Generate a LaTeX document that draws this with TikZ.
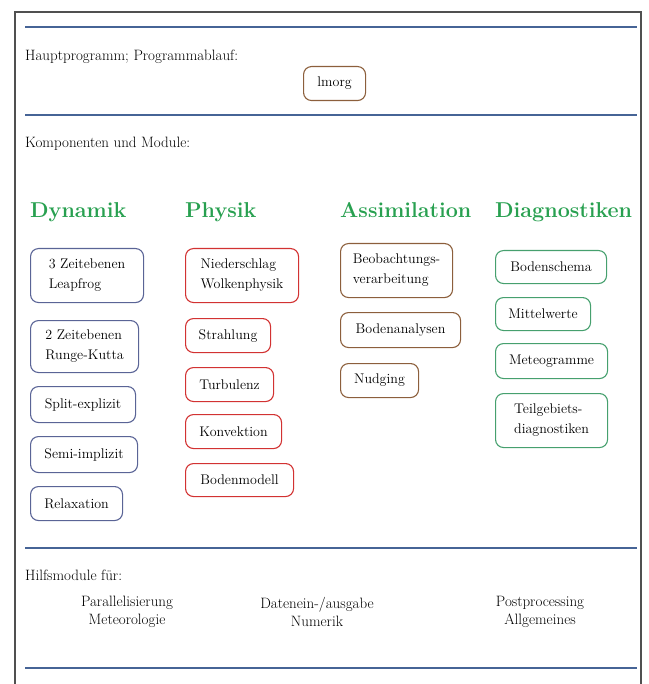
\documentclass[tikz,border=0pt]{standalone}
\usepackage{fontspec}
\begin{document}
\definecolor{sepblue}{RGB}{70,100,150}
\definecolor{hdrgreen}{RGB}{40,160,80}
\definecolor{dync}{RGB}{90,100,150}
\definecolor{phyc}{RGB}{210,50,50}
\definecolor{assc}{RGB}{140,95,60}
\definecolor{diac}{RGB}{70,160,110}
\definecolor{framec}{RGB}{80,80,80}
\begin{tikzpicture}[x=1pt,y=-1pt,
  lbl/.style={anchor=base west,inner sep=0pt,font=\fontsize{15}{18}\selectfont},
  hdr/.style={anchor=base west,inner sep=0pt,text=hdrgreen,font=\fontsize{21.5}{25}\selectfont\bfseries},
  modbox/.style={anchor=north west,draw,rounded corners=8pt,line width=1.1pt,align=left,
    font=\fontsize{14}{20}\selectfont,inner sep=0pt},
  dynbox/.style={modbox,draw=dync},
  phybox/.style={modbox,draw=phyc},
  assbox/.style={modbox,draw=assc},
  diabox/.style={modbox,draw=diac},
  sep/.style={draw=sepblue,line width=2pt},
  helper/.style={anchor=center,align=center,inner sep=0pt,font=\fontsize{15}{17.5}\selectfont}
]
\useasboundingbox (0,0) rectangle (648,684);
\clip (0,0) rectangle (648,684);
% frame
\coordinate (fbl) at (15,700);
\coordinate (ftl) at (15,12);
\coordinate (ftr) at (641,12);
\coordinate (fbr) at (641,700);
\draw[framec,line width=1.3pt] (fbl) -- (ftl) -- (ftr) -- (fbr);
% separator lines
\coordinate (s1l) at (25,27);  \coordinate (s1r) at (637,27);
\coordinate (s2l) at (25,115); \coordinate (s2r) at (637,115);
\coordinate (s3l) at (25,548); \coordinate (s3r) at (637,548);
\coordinate (s4l) at (25,668); \coordinate (s4r) at (637,668);
\draw[sep] (s1l) -- (s1r);
\draw[sep] (s2l) -- (s2r);
\draw[sep] (s3l) -- (s3r);
\draw[sep] (s4l) -- (s4r);
% main program
\node[lbl] (hp) at (25,61) {Hauptprogramm; Programmablauf:};
\node[modbox,draw=assc,align=center,minimum width=62pt,minimum height=34pt] (lmorg) at (303,66) {lmorg};
% components
\node[lbl] (km) at (25,148) {Komponenten und Module:};
\node[hdr] (hdyn) at (30,218) {Dynamik};
\node[hdr] (hphy) at (185,218) {Physik};
\node[hdr] (hass) at (340,218) {Assimilation};
\node[hdr] (hdia) at (495,218) {Diagnostiken};
% Dynamik
\node[dynbox,minimum width=113pt,minimum height=54pt] (d1) at (30,248) {3 Zeitebenen\\Leapfrog};
\node[dynbox,minimum width=108pt,minimum height=52pt] (d2) at (30,320) {2 Zeitebenen\\Runge-Kutta};
\node[dynbox,minimum width=105pt,minimum height=36pt] (d3) at (30,386) {Split-explizit};
\node[dynbox,minimum width=107pt,minimum height=36pt] (d4) at (30,436) {Semi-implizit};
\node[dynbox,minimum width=92pt,minimum height=34pt] (d5) at (30,486) {Relaxation};
% Physik
\node[phybox,minimum width=113pt,minimum height=54pt] (p1) at (185,248) {Niederschlag\\Wolkenphysik};
\node[phybox,minimum width=85pt,minimum height=34pt] (p2) at (185,318) {Strahlung};
\node[phybox,minimum width=88pt,minimum height=34pt] (p3) at (185,367) {Turbulenz};
\node[phybox,minimum width=96pt,minimum height=34pt] (p4) at (185,414) {Konvektion};
\node[phybox,minimum width=108pt,minimum height=33pt] (p5) at (185,463) {Bodenmodell};
% Assimilation
\node[assbox,minimum width=112pt,minimum height=54pt] (a1) at (340,243) {Beobachtungs-\\verarbeitung};
\node[assbox,minimum width=120pt,minimum height=35pt] (a2) at (340,312) {Bodenanalysen};
\node[assbox,minimum width=78pt,minimum height=34pt] (a3) at (340,363) {Nudging};
% Diagnostiken
\node[diabox,minimum width=111pt,minimum height=33pt] (g1) at (495,250) {Bodenschema};
\node[diabox,minimum width=95pt,minimum height=33pt] (g2) at (495,297) {Mittelwerte};
\node[diabox,minimum width=112pt,minimum height=35pt] (g3) at (495,343) {Meteogramme};
\node[diabox,minimum width=112pt,minimum height=54pt] (g4) at (495,393) {Teilgebiets-\\diagnostiken};
% helper modules
\node[lbl] (hm) at (25,580) {Hilfsmodule für:};
\node[helper] (h1) at (127,612) {Parallelisierung\\Meteorologie};
\node[helper] (h2) at (317,612) {Datenein-/ausgabe\\Numerik};
\node[helper] (h3) at (540,612) {Postprocessing\\Allgemeines};
\end{tikzpicture}
\end{document}
